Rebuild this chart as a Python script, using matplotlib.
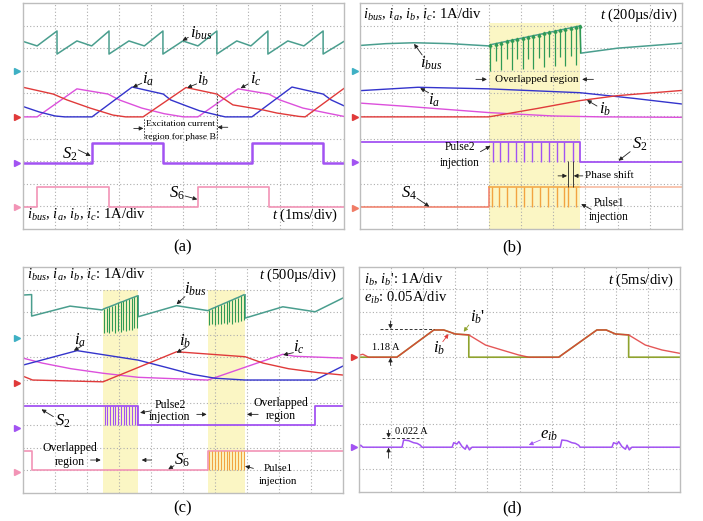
import matplotlib
matplotlib.use('Agg')
import matplotlib.pyplot as plt

plt.rcParams['font.family'] = ['Liberation Serif', 'DejaVu Serif']
plt.rcParams['mathtext.fontset'] = 'custom'
plt.rcParams['mathtext.rm'] = 'Liberation Serif'
plt.rcParams['mathtext.it'] = 'Liberation Serif:italic'

# colours of the scope channels
c_bus = '#4a9e8e'
c_spk = '#2f9a55'
c_a = '#3434cc'
c_b = '#e03a3a'
c_c = '#dc50dc'
c_s2 = '#a253f2'
c_s6 = '#f294b6'
c_s4 = '#f07c66'
c_pul = '#f2a440'
c_ibp = '#8fa32e'
c_yel = '#fbf6c4'

# every value below is in scope divisions: x 0..10 (time), y 0..10 (bottom up)

# ---- (a) 1ms/div
ibus_a_x = [0, 0.44, 1.06, 1.06, 1.68, 2.14, 2.68, 2.68, 3.30, 3.78, 4.36, 4.36, 4.98,
            5.45, 6.04, 6.04, 6.66, 7.10, 7.63, 7.63, 8.25, 8.75, 9.35, 9.35, 10]
ibus_a_y = [8.3, 8.1, 8.76, 7.74, 8.32, 8.1, 8.76, 7.74, 8.32, 8.1, 8.76, 7.74, 8.32,
            8.1, 8.76, 7.74, 8.32, 8.1, 8.76, 7.74, 8.32, 8.1, 8.76, 7.74, 8.3]
ia_a_x = [0, 0.5, 1.0, 1.3, 2.15, 3.40, 4.37, 4.6, 5.1, 5.5, 6.05, 6.3, 7.13, 8.38, 9.35, 9.6, 10]
ia_a_y = [5.42, 5.18, 5.0, 4.96, 4.96, 6.28, 5.97, 5.71, 5.44, 5.23, 5.04, 4.96, 4.96, 6.28, 5.97, 5.71, 5.45]
ib_a_x = [0, 0.94, 1.37, 2.09, 2.8, 3.2, 3.74, 5.08, 6.04, 6.54, 7.47, 7.91, 8.6, 8.79, 10]
ib_a_y = [6.27, 5.97, 5.71, 5.35, 5.04, 4.96, 4.96, 6.26, 5.97, 5.49, 5.27, 5.13, 4.98, 4.96, 6.22]
ic_a_x = [0, 0.44, 1.68, 2.65, 3.0, 3.7, 4.4, 5.0, 5.45, 6.70, 7.66, 8.0, 8.72, 9.47, 10]
ic_a_y = [4.96, 4.96, 6.2, 5.97, 5.71, 5.35, 5.1, 4.96, 4.96, 6.2, 5.97, 5.71, 5.35, 5.13, 4.98]
s2_a_x = [0, 2.15, 4.36, 7.13, 9.35, 10]
s2_a_y = [2.92, 3.81, 2.92, 3.81, 2.92, 2.92]
s6_a_x = [0, 0.44, 2.68, 5.45, 7.66, 10]
s6_a_y = [0.97, 1.86, 0.97, 1.86, 0.97, 0.97]

# ---- (b) 200us/div
ibus_b_x = [0, 0.8, 1.68, 2.8, 4.0]
ibus_b_y = [8.12, 8.2, 8.24, 8.2, 8.1]
spk_b_x = [4.05, 4.21, 4.38, 4.55, 4.71, 4.88, 5.05, 5.21, 5.38, 5.55, 5.71, 5.88, 6.05,
           6.21, 6.38, 6.55, 6.71, 6.83]
spk_b_top = [8.15, 8.2, 8.25, 8.3, 8.35, 8.4, 8.45, 8.5, 8.55, 8.6, 8.65, 8.7, 8.75,
             8.8, 8.85, 8.9, 8.95, 8.98]
spk_b_bot = [7.0, 7.45, 7.05, 7.5, 7.05, 7.5, 7.1, 7.5, 7.1, 7.55, 7.15, 7.6, 7.2,
             7.6, 7.2, 7.65, 7.25, 7.8]
ibus_b2_x = [6.83, 6.86, 8.0, 10]
ibus_b2_y = [8.98, 7.78, 8.0, 8.22]
ia_b_x = [0, 1.8, 4.0, 6.83, 8.5, 10]
ia_b_y = [6.12, 6.27, 6.2, 6.03, 5.78, 5.53]
ib_b_x = [0, 4.0, 5.5, 6.83, 8.0, 10]
ib_b_y = [4.96, 4.96, 5.33, 5.68, 5.9, 6.13]
ic_b_x = [0, 1.5, 4.0, 6.0, 7.5, 10]
ic_b_y = [5.57, 5.42, 5.15, 5.0, 4.96, 4.94]
s2_b_x = [0, 6.83, 10]
s2_b_y = [3.86, 2.98, 2.98]
s2_b_pulses = [4.12, 4.35, 4.59, 4.84, 5.10, 5.35, 5.61, 5.87, 6.11, 6.34, 6.62]
s4_b_pulses = [4.09, 4.33, 4.57, 4.84, 5.09, 5.34, 5.59, 5.85, 6.11, 6.34, 6.45, 6.71]

# ---- (c) 500us/div
ibus_c1_x = [0, 0.27, 0.27, 1.47, 2.47]
ibus_c1_y = [8.76, 8.78, 7.83, 8.27, 8.1]
spk_c1_x = [2.53, 2.62, 2.70, 2.79, 2.88, 2.96, 3.05, 3.14, 3.22, 3.31, 3.40, 3.48, 3.57]
spk_c1_top = [8.15, 8.2, 8.24, 8.29, 8.34, 8.39, 8.44, 8.48, 8.53, 8.58, 8.63, 8.67, 8.72]
spk_c1_bot = [7.1, 7.12, 7.08, 7.15, 7.1, 7.18, 7.12, 7.2, 7.15, 7.22, 7.2, 7.28, 7.3]
ibus_c2_x = [3.6, 3.6, 4.8, 5.78]
ibus_c2_y = [8.72, 7.8, 8.29, 8.07]
spk_c2_x = [5.82, 5.91, 6.0, 6.09, 6.18, 6.27, 6.36, 6.45, 6.54, 6.63, 6.72, 6.81, 6.90]
spk_c2_top = [8.1, 8.16, 8.21, 8.27, 8.32, 8.38, 8.43, 8.49, 8.54, 8.6, 8.65, 8.71, 8.77]
spk_c2_bot = [7.45, 7.48, 7.45, 7.5, 7.46, 7.52, 7.48, 7.55, 7.5, 7.58, 7.55, 7.6, 7.65]
ibus_c3_x = [6.94, 6.94, 8.12, 9.13, 10]
ibus_c3_y = [8.77, 7.74, 8.24, 8.02, 8.63]
ia_c_x = [0, 1.69, 3.6, 4.5, 5.3, 6.0, 6.94, 9.13, 10]
ia_c_y = [5.66, 6.3, 5.88, 5.55, 5.25, 5.08, 5.0, 5.0, 5.62]
ib_c_x = [0, 0.3, 2.5, 4.8, 6.94, 7.5, 8.3, 9.2, 10]
ib_c_y = [5.17, 5.0, 4.92, 6.25, 6.03, 5.75, 5.5, 5.33, 5.22]
ic_c_x = [0, 0.6, 1.5, 2.5, 3.6, 5.78, 8.12, 8.5, 10]
ic_c_y = [5.97, 5.75, 5.5, 5.3, 5.12, 5.0, 6.14, 6.05, 5.97]
s2_c_x = [0, 3.6, 9.13, 10]
s2_c_y = [3.85, 3.0, 3.85, 3.85]
s2_c_pulses = [2.55, 2.64, 2.72, 2.81, 2.89, 2.98, 3.06, 3.15, 3.23, 3.32, 3.40, 3.49, 3.57]
s6_c_x = [0, 0.27, 5.78, 10]
s6_c_y = [1.87, 1.02, 1.87, 1.87]
s6_c_pulses = [5.82, 5.91, 6.0, 6.09, 6.18, 6.27, 6.36, 6.45, 6.54, 6.63, 6.72, 6.81, 6.90]

# ---- (d) 5ms/div
ib_d_x = [0, 0.12, 0.3, 1.18, 2.33, 2.64, 3.0, 3.42, 3.94, 4.45, 4.97, 5.29, 6.22,
          7.41, 7.7, 7.99, 8.4, 8.92, 9.44, 10]
ib_d_y = [6.08, 6.12, 5.99, 5.99, 7.2, 7.2, 7.02, 6.98, 6.53, 6.31, 6.09, 5.99, 5.99,
          7.2, 7.2, 7.02, 6.98, 6.53, 6.31, 6.16]
ibp_d_x = [0, 1.18, 2.33, 2.64, 3.0, 3.42, 3.42, 6.22, 7.41, 7.7, 7.99, 8.4, 8.4, 10]
ibp_d_y = [5.99, 5.99, 7.2, 7.2, 7.02, 6.98, 5.99, 5.99, 7.2, 7.2, 7.02, 6.98, 5.99, 5.99]
eib_d_x = [0, 0.05, 0.12, 1.34, 1.39, 1.55, 1.70, 1.81, 1.91, 1.96,
           2.90, 2.95, 3.05, 3.11, 3.21, 3.31, 3.36, 3.44, 3.52,
           6.27, 6.32, 6.48, 6.63, 6.74, 6.84, 6.89,
           7.88, 7.93, 8.04, 8.09, 8.19, 8.30, 8.35, 8.42, 8.50, 10]
eib_d_y = [2.0, 2.08, 1.99, 1.99, 2.31, 2.28, 2.19, 2.16, 2.08, 1.99,
           1.99, 2.19, 2.13, 2.24, 2.02, 1.90, 2.08, 1.87, 1.99,
           1.99, 2.31, 2.28, 2.19, 2.16, 2.08, 1.99,
           1.99, 2.19, 2.13, 2.24, 2.02, 1.90, 2.08, 1.87, 1.99, 1.99]


def scope(ax):
    ax.set_xlim(0, 10)
    ax.set_ylim(0, 10)
    ax.set_xticks(range(1, 10))
    ax.set_yticks(range(1, 10))
    ax.grid(True, color='#adadad', linestyle=(0, (1, 2)), linewidth=0.8)
    ax.set_axisbelow(True)
    ax.tick_params(length=0, labelbottom=False, labelleft=False)
    for s in ax.spines.values():
        s.set_color('#bdbdbd')
        s.set_linewidth(1.0)


def chan(ax, x, y, c):
    ax.plot(x, y, marker='>', ms=4, color=c, clip_on=False, lw=0)


def arr(ax, tail, head, c='#222222'):
    ax.annotate('', xy=head, xytext=tail,
                arrowprops=dict(arrowstyle='-|>', color=c, lw=0.6,
                                mutation_scale=6, shrinkA=0, shrinkB=0))


def lab(ax, x, y, s, size=12, **kw):
    ax.text(x, y, s, fontsize=size, ha=kw.pop('ha', 'center'), va=kw.pop('va', 'center'), **kw)


fig = plt.figure(figsize=(7.03, 5.21), dpi=100)
info = r'$i_{bus}$, $i_a$, $i_b$, $i_c$: 1A/div'

# ---------------- (a)
ax = fig.add_axes([0.0327, 0.5605, 0.4566, 0.4338])
scope(ax)
ax.plot(ibus_a_x, ibus_a_y, color=c_bus, lw=1.1)
ax.plot(ic_a_x, ic_a_y, color=c_c, lw=1.0)
ax.plot(ia_a_x, ia_a_y, color=c_a, lw=1.0)
ax.plot(ib_a_x, ib_a_y, color=c_b, lw=1.0)
ax.step(s2_a_x, s2_a_y, where='post', color=c_s2, lw=1.8)
ax.step(s6_a_x, s6_a_y, where='post', color=c_s6, lw=1.2)
for y, c in [(6.99, '#3fb0c4'), (4.96, c_b), (2.92, c_s2), (0.97, c_s6)]:
    chan(ax, -0.19, y, c)
lab(ax, 5.55, 8.66, r'$i_{bus}$')
arr(ax, (5.15, 8.48), (4.97, 8.33))
lab(ax, 3.88, 6.62, r'$i_a$')
arr(ax, (3.7, 6.45), (3.42, 6.27))
lab(ax, 5.6, 6.62, r'$i_b$')
arr(ax, (5.41, 6.42), (5.12, 6.25))
lab(ax, 7.25, 6.62, r'$i_c$')
arr(ax, (7.02, 6.42), (6.78, 6.23))
lab(ax, 1.46, 3.32, r'$S_2$')
arr(ax, (1.72, 3.5), (2.11, 3.23))
lab(ax, 4.79, 1.58, r'$S_6$')
arr(ax, (5.05, 1.46), (5.43, 1.31))
ax.plot([3.77, 3.77], [4.03, 4.91], color='#333333', lw=0.6, ls=(0, (2, 1.5)))
ax.plot([6.04, 6.04], [4.03, 5.97], color='#333333', lw=0.6, ls=(0, (2, 1.5)))
arr(ax, (3.45, 4.45), (3.75, 4.45))
arr(ax, (6.38, 4.5), (6.06, 4.5))
lab(ax, 4.92, 4.63, 'Excitation current', size=6.8)
lab(ax, 4.92, 4.08, 'region for phase B', size=6.8)
lab(ax, 0.12, 0.6, info, size=10.5, ha='left')
lab(ax, 9.8, 0.6, r'$t$ (1ms/div)', size=10.5, ha='right')

# ---------------- (b)
ax = fig.add_axes([0.5121, 0.5605, 0.4580, 0.4338])
scope(ax)
ax.axvspan(4.0, 6.83, ymax=0.91, color=c_yel, zorder=0.2, lw=0)
ax.plot(ibus_b_x + spk_b_x, ibus_b_y + spk_b_top, color=c_bus, lw=1.1)
ax.plot(ibus_b2_x, ibus_b2_y, color=c_bus, lw=1.1)
ax.vlines(spk_b_x, spk_b_bot, spk_b_top, color=c_spk, lw=0.9)
ax.plot(spk_b_x, spk_b_top, ls='none', marker='^', ms=2, color=c_spk)
ax.plot(ic_b_x, ic_b_y, color=c_c, lw=1.0)
ax.plot(ia_b_x, ia_b_y, color=c_a, lw=1.0)
ax.plot(ib_b_x, ib_b_y, color=c_b, lw=1.0)
ax.step(s2_b_x, s2_b_y, where='post', color=c_s2, lw=1.3)
ax.vlines(s2_b_pulses, 2.98, 3.86, color=c_s2, lw=1.0)
ax.plot([0, 4.0, 4.0], [0.96, 0.96, 1.85], color=c_s4, lw=1.1)
ax.plot([4.0, 6.83], [1.85, 1.85], color=c_pul, lw=1.1)
ax.plot([6.83, 10], [1.85, 1.85], color='#f6b59a', lw=1.1)
ax.vlines(s4_b_pulses, 0.96, 1.85, color=c_pul, lw=1.0)
for y, c in [(6.99, '#3fb0c4'), (4.96, c_b), (2.96, c_s2), (0.93, c_s4)]:
    chan(ax, -0.16, y, c)
lab(ax, 0.1, 9.45, info, size=10.5, ha='left')
lab(ax, 9.85, 9.45, r'$t$ (200µs/div)', size=10.5, ha='right')
lab(ax, 2.2, 7.35, r'$i_{bus}$')
arr(ax, (1.93, 7.7), (1.68, 8.19))
lab(ax, 2.3, 5.68, r'$i_a$')
arr(ax, (2.13, 6.03), (1.87, 6.23))
lab(ax, 7.61, 5.3, r'$i_b$')
arr(ax, (7.36, 5.44), (7.05, 5.7))
lab(ax, 8.7, 3.75, r'$S_2$')
arr(ax, (8.39, 3.42), (8.03, 3.02))
lab(ax, 1.51, 1.6, r'$S_4$')
arr(ax, (1.77, 1.36), (2.15, 0.99))
lab(ax, 5.5, 6.62, 'Overlapped region', size=8)
arr(ax, (3.6, 6.62), (3.94, 6.62))
arr(ax, (7.25, 6.62), (6.9, 6.62))
lab(ax, 3.1, 3.64, 'Pulse2', size=8.3)
lab(ax, 3.1, 2.94, 'injection', size=8.3)
arr(ax, (3.74, 3.42), (4.05, 3.67))
ax.vlines([6.45, 6.62], 1.85, 3.02, color='#222222', lw=0.6)
arr(ax, (6.15, 2.35), (6.43, 2.35))
arr(ax, (6.92, 2.35), (6.64, 2.35))
lab(ax, 7.0, 2.35, 'Phase shift', size=8, ha='left')
lab(ax, 7.72, 1.14, 'Pulse1', size=8.3)
lab(ax, 7.72, 0.54, 'injection', size=8.3)
arr(ax, (7.18, 0.87), (6.87, 1.1))

# ---------------- (c)
ax = fig.add_axes([0.0327, 0.0537, 0.4552, 0.4338])
scope(ax)
ax.axvspan(2.5, 3.6, ymax=0.9, color=c_yel, zorder=0.2, lw=0)
ax.axvspan(5.78, 6.94, ymax=0.9, color=c_yel, zorder=0.2, lw=0)
ax.plot(ibus_c1_x + spk_c1_x, ibus_c1_y + spk_c1_top, color=c_bus, lw=1.1)
ax.plot(ibus_c2_x + spk_c2_x, ibus_c2_y + spk_c2_top, color=c_bus, lw=1.1)
ax.plot(ibus_c3_x, ibus_c3_y, color=c_bus, lw=1.1)
ax.vlines(spk_c1_x, spk_c1_bot, spk_c1_top, color=c_spk, lw=0.8)
ax.vlines(spk_c2_x, spk_c2_bot, spk_c2_top, color=c_spk, lw=0.8)
ax.plot(ic_c_x, ic_c_y, color=c_c, lw=1.0)
ax.plot(ia_c_x, ia_c_y, color=c_a, lw=1.0)
ax.plot(ib_c_x, ib_c_y, color=c_b, lw=1.0)
ax.step(s2_c_x, s2_c_y, where='post', color=c_s2, lw=1.3)
ax.vlines(s2_c_pulses, 3.0, 3.85, color=c_s2, lw=0.8)
ax.step(s6_c_x, s6_c_y, where='post', color=c_s6, lw=1.2)
ax.vlines(s6_c_pulses, 1.02, 1.87, color=c_pul, lw=0.8)
for y, c in [(6.86, '#3fb0c4'), (4.87, c_b), (2.88, c_s2), (0.94, c_s6)]:
    chan(ax, -0.19, y, c)
lab(ax, 0.12, 9.65, info, size=10.5, ha='left')
lab(ax, 9.8, 9.65, r'$t$ (500µs/div)', size=10.5, ha='right')
lab(ax, 5.38, 9.0, r'$i_{bus}$')
arr(ax, (5.06, 8.69), (4.8, 8.35))
lab(ax, 1.78, 6.77, r'$i_a$')
arr(ax, (1.83, 6.5), (1.59, 6.3))
lab(ax, 5.06, 6.72, r'$i_b$')
arr(ax, (5.11, 6.45), (4.8, 6.21))
lab(ax, 8.63, 6.45, r'$i_c$')
arr(ax, (8.45, 6.21), (8.13, 6.11))
lab(ax, 1.23, 3.19, r'$S_2$')
arr(ax, (0.95, 3.38), (0.58, 3.7))
lab(ax, 4.59, 3.89, 'Pulse2', size=8.5)
lab(ax, 4.59, 3.38, 'injection', size=8.5)
arr(ax, (4.02, 3.64), (3.66, 3.55))
arr(ax, (5.43, 3.48), (5.74, 3.48))
arr(ax, (7.35, 3.48), (7.0, 3.48))
lab(ax, 8.06, 3.97, 'Overlapped', size=8.5)
lab(ax, 8.06, 3.42, 'region', size=8.5)
lab(ax, 1.47, 1.98, 'Overlapped', size=8.5)
lab(ax, 1.47, 1.39, 'region', size=8.5)
arr(ax, (2.11, 1.46), (2.43, 1.46))
arr(ax, (4.02, 1.46), (3.71, 1.46))
lab(ax, 4.96, 1.46, r'$S_6$')
arr(ax, (4.72, 1.21), (4.54, 1.05))
lab(ax, 7.98, 1.1, 'Pulse1', size=7.8)
lab(ax, 7.98, 0.5, 'injection', size=7.8)
arr(ax, (7.2, 1.09), (6.94, 1.19))

# ---------------- (d)
ax = fig.add_axes([0.5107, 0.0557, 0.4566, 0.4319])
scope(ax)
ax.plot(ibp_d_x, ibp_d_y, color=c_ibp, lw=1.2)
ax.plot(ib_d_x, ib_d_y, color=c_b, lw=1.0, alpha=0.85)
ax.plot(eib_d_x, eib_d_y, color=c_s2, lw=1.1)
chan(ax, -0.17, 5.99, c_b)
chan(ax, -0.17, 1.99, c_s2)
lab(ax, 0.15, 9.42, r"$i_b$, $i_b$': 1A/div", size=10.5, ha='left')
lab(ax, 0.15, 8.61, r'$e_{ib}$: 0.05A/div', size=10.5, ha='left')
lab(ax, 9.8, 9.42, r'$t$ (5ms/div)', size=10.5, ha='right')
lab(ax, 3.68, 7.75, r"$i_b$'")
arr(ax, (3.42, 7.42), (3.26, 7.12), c_ibp)
lab(ax, 2.5, 6.39, r'$i_b$')
arr(ax, (2.61, 6.68), (2.79, 7.02), c_b)
ax.plot([0.66, 2.33], [7.23, 7.23], color='#333333', lw=0.7, ls=(0, (3, 2)))
arr(ax, (0.98, 7.6), (0.98, 7.25))
arr(ax, (0.98, 5.62), (0.98, 5.97))
lab(ax, 0.82, 6.43, '1.18 A', size=7.5)
ax.plot([0.72, 1.96], [2.39, 2.39], color='#333333', lw=0.7, ls=(0, (3, 2)))
arr(ax, (0.92, 2.75), (0.92, 2.41))
arr(ax, (0.92, 1.5), (0.92, 1.97))
lab(ax, 1.13, 2.68, '0.022 A', size=7.5, ha='left')
lab(ax, 5.91, 2.53, r'$e_{ib}$')
arr(ax, (5.65, 2.31), (5.29, 2.09), c_s2)

fig.text(183 / 703, 1 - 247 / 521, '(a)', fontsize=12, ha='center', va='center')
fig.text(512 / 703, 1 - 247 / 521, '(b)', fontsize=12, ha='center', va='center')
fig.text(183 / 703, 1 - 508 / 521, '(c)', fontsize=12, ha='center', va='center')
fig.text(512 / 703, 1 - 508 / 521, '(d)', fontsize=12, ha='center', va='center')

fig.savefig('out.png', dpi=100)
